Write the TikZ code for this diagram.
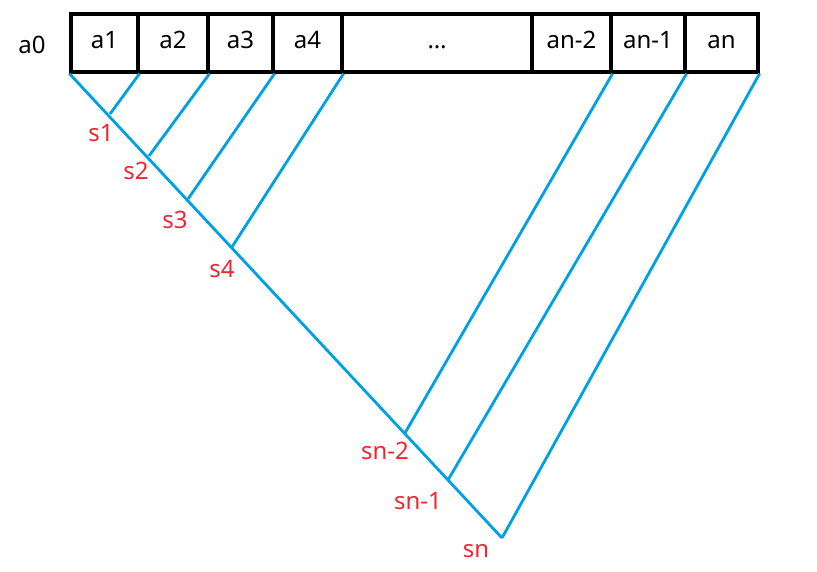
\documentclass[tikz,border=0pt]{standalone}
\usepackage{fontspec}
\setmainfont{Noto Sans}
\usetikzlibrary{positioning,calc}
\definecolor{sumblue}{RGB}{0,160,230}
\definecolor{sumred}{RGB}{235,40,50}
\tikzset{
	cell/.style={rectangle,draw,line width=3.2pt,minimum height=58pt,inner sep=0pt,
		font=\fontsize{24}{28}\selectfont},
	sumline/.style={draw=sumblue,line width=2.8pt},
	slabel/.style={text=sumred,inner sep=0pt,font=\fontsize{24}{28}\selectfont}
}

\begin{document}
\begin{tikzpicture}[x=1pt,y=-1pt]
	\useasboundingbox (0,0) rectangle (817,572);
	
	\node[inner sep=0pt,font=\fontsize{24}{28}\selectfont] (a0) at (32,45) {a0};
	\node[cell,minimum width=67pt] (a1) at (104.5,43) {\strut a1};
	\node[cell,minimum width=70pt] (a2) at (173,43) {\strut a2};
	\node[cell,minimum width=65pt] (a3) at (240.5,43) {\strut a3};
	\node[cell,minimum width=69pt] (a4) at (307.5,43) {\strut a4};
	\node[cell,minimum width=190pt] (dots) at (437,43) {\strut\dots};
	\node[cell,minimum width=79pt] (an2) at (571.5,43) {\strut an-2};
	\node[cell,minimum width=74pt] (an1) at (648,43) {\strut an-1};
	\node[cell,minimum width=73pt] (an) at (721.5,43) {\strut an};
	
	\coordinate (s1) at (110,114);
	\coordinate (s2) at (149,156);
	\coordinate (s3) at (188,199);
	\coordinate (s4) at (232,247);
	\coordinate (sn2) at (405,433);
	\coordinate (sn1) at (448,480);
	\coordinate (sn) at (502,538);
	
	\path[sumline] (a1.south west) -- (sn);
	\path[sumline] (a1.south east) -- (s1);
	\path[sumline] (a2.south east) -- (s2);
	\path[sumline] (a3.south east) -- (s3);
	\path[sumline] (a4.south east) -- (s4);
	\path[sumline] (an2.south east) -- (sn2);
	\path[sumline] (an1.south east) -- (sn1);
	\path[sumline] (an.south east) -- (sn);
	
	\node[slabel] (l1) at (101,133) {s1};
	\node[slabel] (l2) at (136,171) {s2};
	\node[slabel] (l3) at (175,220) {s3};
	\node[slabel] (l4) at (222,269) {s4};
	\node[slabel] (ln2) at (385,451) {sn-2};
	\node[slabel] (ln1) at (418,501) {sn-1};
	\node[slabel] (ln) at (476,551) {sn};
	
\end{tikzpicture}
\end{document}
